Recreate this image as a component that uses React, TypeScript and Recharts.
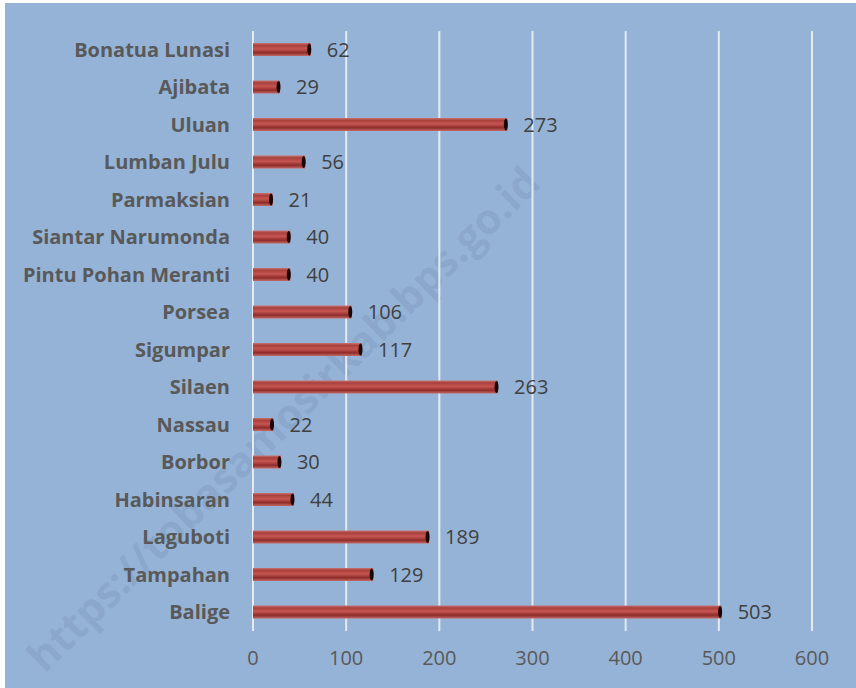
import React from 'react';
import { BarChart, Bar, XAxis, YAxis, CartesianGrid, LabelList } from 'recharts';

const categories = [
  'Bonatua Lunasi', 'Ajibata', 'Uluan', 'Lumban Julu', 'Parmaksian', 'Siantar Narumonda',
  'Pintu Pohan Meranti', 'Porsea', 'Sigumpar', 'Silaen', 'Nassau', 'Borbor',
  'Habinsaran', 'Laguboti', 'Tampahan', 'Balige',
];
const values = [62, 29, 273, 56, 21, 40, 40, 106, 117, 263, 22, 30, 44, 189, 129, 503];
const xTicks = [0, 100, 200, 300, 400, 500, 600];

const data = categories.map((name, i) => ({ name, value: values[i] }));

const FONT = '"Open Sans", Lato, sans-serif';

// cylinder-like bar with a dark cap at the end
const TubeBar = (props: any) => {
  const { x, y, width, height } = props;
  if (!width || width <= 0) return null;
  const capW = 3;
  return (
    <g>
      <rect x={x} y={y} width={width} height={height} fill="url(#tube)" />
      <ellipse cx={x + width - capW / 2} cy={y + height / 2} rx={capW / 2 + 0.5} ry={height / 2 - 0.5} fill="#1a0505" />
    </g>
  );
};

const App: React.FC = () => {
  return (
    <div style={{ position: 'absolute', left: 0, top: 0, width: 856, height: 688, background: '#fff', overflow: 'hidden' }}>
      <div style={{ position: 'absolute', left: 5, top: 3, width: 851, height: 685, background: '#95B3D7' }} />
      <div
        style={{
          position: 'absolute',
          left: 282,
          top: 418,
          transform: 'translate(-50%, -50%) rotate(-44.5deg)',
          fontFamily: FONT,
          fontWeight: 700,
          fontSize: 42,
          color: 'rgba(70,95,130,0.14)',
          whiteSpace: 'nowrap',
        }}
      >
        https://tobasamosirkab.bps.go.id
      </div>
      <div style={{ position: 'absolute', left: 0, top: 0 }}>
        <BarChart
          width={856}
          height={688}
          data={data}
          layout="vertical"
          margin={{ top: 31, right: 44, left: 0, bottom: 0 }}
          barSize={13}
        >
          <defs>
            <linearGradient id="tube" x1="0" y1="0" x2="0" y2="1">
              <stop offset="0%" stopColor="#c97370" />
              <stop offset="18%" stopColor="#a8403c" />
              <stop offset="45%" stopColor="#c65552" />
              <stop offset="75%" stopColor="#8e2c29" />
              <stop offset="100%" stopColor="#c46a67" />
            </linearGradient>
          </defs>
          <CartesianGrid horizontal={false} stroke="#e6e9ee" strokeWidth={2} />
          <XAxis
            type="number"
            domain={[0, 600]}
            ticks={xTicks}
            axisLine={false}
            tickLine={false}
            tickSize={0}
            tickMargin={20}
            height={57}
            tick={{ fill: '#595959', fontSize: 20, fontFamily: FONT }}
          />
          <YAxis
            type="category"
            dataKey="name"
            width={253}
            axisLine={false}
            tickLine={false}
            tickSize={0}
            tickMargin={23}
            interval={0}
            tick={{ fill: '#595959', fontSize: 20, fontWeight: 700, fontFamily: FONT }}
          />
          <Bar dataKey="value" shape={TubeBar} isAnimationActive={false}>
            <LabelList dataKey="value" position="right" offset={16} fill="#404040" fontSize={20} fontFamily={FONT} />
          </Bar>
        </BarChart>
      </div>
    </div>
  );
};

export default App;
